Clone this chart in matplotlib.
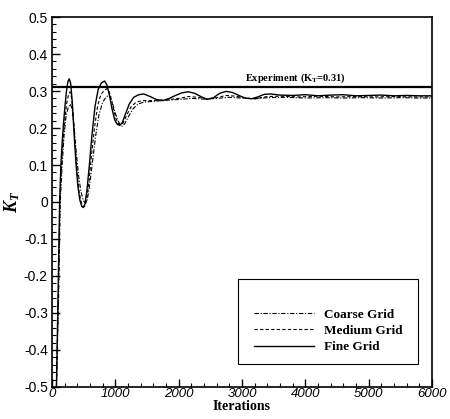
import matplotlib
matplotlib.use("Agg")
import matplotlib.pyplot as plt
from matplotlib.ticker import AutoMinorLocator
from matplotlib.patches import Rectangle
from matplotlib.lines import Line2D

plt.rcParams['mathtext.fontset'] = 'custom'
plt.rcParams['mathtext.it'] = 'Liberation Serif:bold:italic'
plt.rcParams['mathtext.bf'] = 'Liberation Serif:bold'
plt.rcParams['mathtext.rm'] = 'Liberation Serif:bold'

# ---------------- data ----------------
fine_it = [70, 95, 120, 140, 160, 180, 200, 225, 250, 272, 295, 320, 350, 380, 410, 440, 470, 495,
           520, 550, 590, 630, 680, 730, 780, 830, 870, 910, 950, 990, 1030, 1070, 1110, 1160, 1220,
           1290, 1370, 1450, 1550, 1650, 1750, 1850, 1950, 2050, 2150, 2250, 2350, 2450, 2550, 2650,
           2750, 2850, 2950, 3050, 3150, 3250, 3350, 3450, 3600, 3800, 4000, 4200, 4400, 4600, 4800,
           5000, 5200, 5400, 5600, 5800, 6000]
fine_kt = [-0.5, -0.25, 0.0, 0.1, 0.16, 0.21, 0.25, 0.295, 0.325, 0.333, 0.32, 0.27, 0.18, 0.10, 0.04,
           0.005, -0.012, -0.015, -0.005, 0.03, 0.10, 0.18, 0.26, 0.305, 0.322, 0.327, 0.315, 0.285,
           0.25, 0.222, 0.21, 0.207, 0.215, 0.238, 0.265, 0.283, 0.29, 0.292, 0.285, 0.277, 0.274,
           0.28, 0.288, 0.295, 0.298, 0.294, 0.285, 0.277, 0.282, 0.294, 0.299, 0.296, 0.288, 0.281,
           0.279, 0.284, 0.291, 0.292, 0.289, 0.288, 0.290, 0.287, 0.289, 0.290, 0.287, 0.288, 0.289,
           0.287, 0.288, 0.287, 0.287]

medium_it = [70, 100, 125, 150, 175, 200, 230, 260, 285, 310, 340, 370, 400, 430, 460, 490, 515, 540,
             580, 620, 670, 720, 770, 830, 880, 920, 960, 1000, 1040, 1080, 1120, 1180, 1250, 1330,
             1420, 1550, 1700, 1850, 2000, 2150, 2300, 2450, 2600, 2750, 2900, 3050, 3200, 3400, 3600,
             3900, 4200, 4500, 4800, 5100, 5400, 5700, 6000]
medium_kt = [-0.5, -0.25, 0.0, 0.1, 0.17, 0.22, 0.265, 0.29, 0.298, 0.28, 0.22, 0.14, 0.07, 0.025, 0.0,
             -0.012, -0.012, 0.0, 0.05, 0.12, 0.20, 0.26, 0.29, 0.303, 0.307, 0.29, 0.26, 0.23, 0.213,
             0.208, 0.213, 0.235, 0.258, 0.27, 0.274, 0.274, 0.275, 0.277, 0.28, 0.285, 0.283, 0.279,
             0.282, 0.288, 0.286, 0.281, 0.279, 0.285, 0.286, 0.284, 0.286, 0.284, 0.285, 0.284,
             0.285, 0.284, 0.284]

coarse_it = [70, 105, 130, 160, 190, 220, 255, 290, 320, 350, 385, 420, 455, 490, 525, 555, 590, 640,
             690, 740, 800, 860, 910, 950, 990, 1030, 1070, 1110, 1150, 1210, 1280, 1360, 1450, 1600,
             1800, 2000, 2200, 2400, 2600, 2800, 3000, 3200, 3400, 3700, 4000, 4300, 4600, 4900, 5200,
             5500, 5800, 6000]
coarse_kt = [-0.5, -0.25, 0.0, 0.1, 0.18, 0.23, 0.255, 0.265, 0.25, 0.2, 0.13, 0.07, 0.03, 0.005,
             -0.003, 0.005, 0.04, 0.11, 0.18, 0.235, 0.27, 0.285, 0.287, 0.27, 0.245, 0.225, 0.21,
             0.205, 0.212, 0.232, 0.252, 0.265, 0.27, 0.272, 0.275, 0.277, 0.28, 0.278, 0.28, 0.283,
             0.281, 0.279, 0.282, 0.283, 0.281, 0.282, 0.281, 0.282, 0.281, 0.282, 0.281, 0.281]

experiment_kt = 0.31
series_labels = ["Coarse Grid", "Medium Grid", "Fine Grid"]
x_ticks = [0, 1000, 2000, 3000, 4000, 5000, 6000]
y_ticks = [0.5, 0.4, 0.3, 0.2, 0.1, 0, -0.1, -0.2, -0.3, -0.4, -0.5]
y_tick_labels = ["0.5", "0.4", "0.3", "0.2", "0.1", "0", "-0.1", "-0.2", "-0.3", "-0.4", "-0.5"]

# ---------------- figure ----------------
fig = plt.figure(figsize=(4.5, 4.19), dpi=100)
ax = fig.add_axes([0.1156, 0.0764, 0.8444, 0.883])

ax.plot(coarse_it, coarse_kt, color='black', lw=0.8, dashes=(4, 1.5, 1, 1.5))
ax.plot(medium_it, medium_kt, color='black', lw=0.8, dashes=(3, 2))
ax.plot(fine_it, fine_kt, color='black', lw=1.0, ls='-')
ax.axhline(experiment_kt, color='black', lw=1.6)
ax.text(3840, experiment_kt + 0.006, r"Experiment (K$_{\mathbf{T}}$=0.31)", ha='center', va='bottom',
        fontsize=7.5, family='Liberation Serif', fontweight='bold')

ax.set_xlim(0, 6000)
ax.set_ylim(-0.5, 0.5)
ax.set_xticks(x_ticks)
ax.set_xticklabels([str(v) for v in x_ticks], fontsize=9.5, family='Liberation Sans', style='italic')
ax.set_yticks(y_ticks)
ax.set_yticklabels(y_tick_labels, fontsize=10, family='Liberation Sans')
ax.xaxis.set_minor_locator(AutoMinorLocator(5))
ax.yaxis.set_minor_locator(AutoMinorLocator(5))
ax.tick_params(which='major', direction='in', length=6, width=1.0)
ax.tick_params(which='minor', direction='in', length=3, width=0.8)
ax.tick_params(axis='y', which='major', pad=3)
ax.tick_params(axis='x', which='major', pad=0.5)
for s in ax.spines.values():
    s.set_linewidth(1.2)

ax.set_xlabel("Iterations", fontsize=10, family='Liberation Serif', fontweight='bold', va='top')
ax.xaxis.set_label_coords(0.5, -0.034)
ax.set_ylabel(r"$K_T$", fontsize=13, rotation=90, va='center')
ax.yaxis.set_label_coords(-0.105, 0.5)

# legend frame
ax.add_patch(Rectangle((0.489, 0.062), 0.474, 0.23, transform=ax.transAxes, fill=False,
                       edgecolor='black', lw=0.8, zorder=5))
handles = [Line2D([], [], color='black', lw=0.8, dashes=(4, 1.5, 1, 1.5)),
           Line2D([], [], color='black', lw=0.8, dashes=(3, 2)),
           Line2D([], [], color='black', lw=1.0)]
leg = ax.legend(handles, series_labels, loc='upper left', bbox_to_anchor=(0.532, 0.212),
                frameon=False, borderpad=0, borderaxespad=0, handlelength=4.5,
                handletextpad=0.8, labelspacing=0.3,
                prop={'family': 'Liberation Serif', 'weight': 'bold', 'size': 9.5})

fig.savefig("out.png", dpi=100)
